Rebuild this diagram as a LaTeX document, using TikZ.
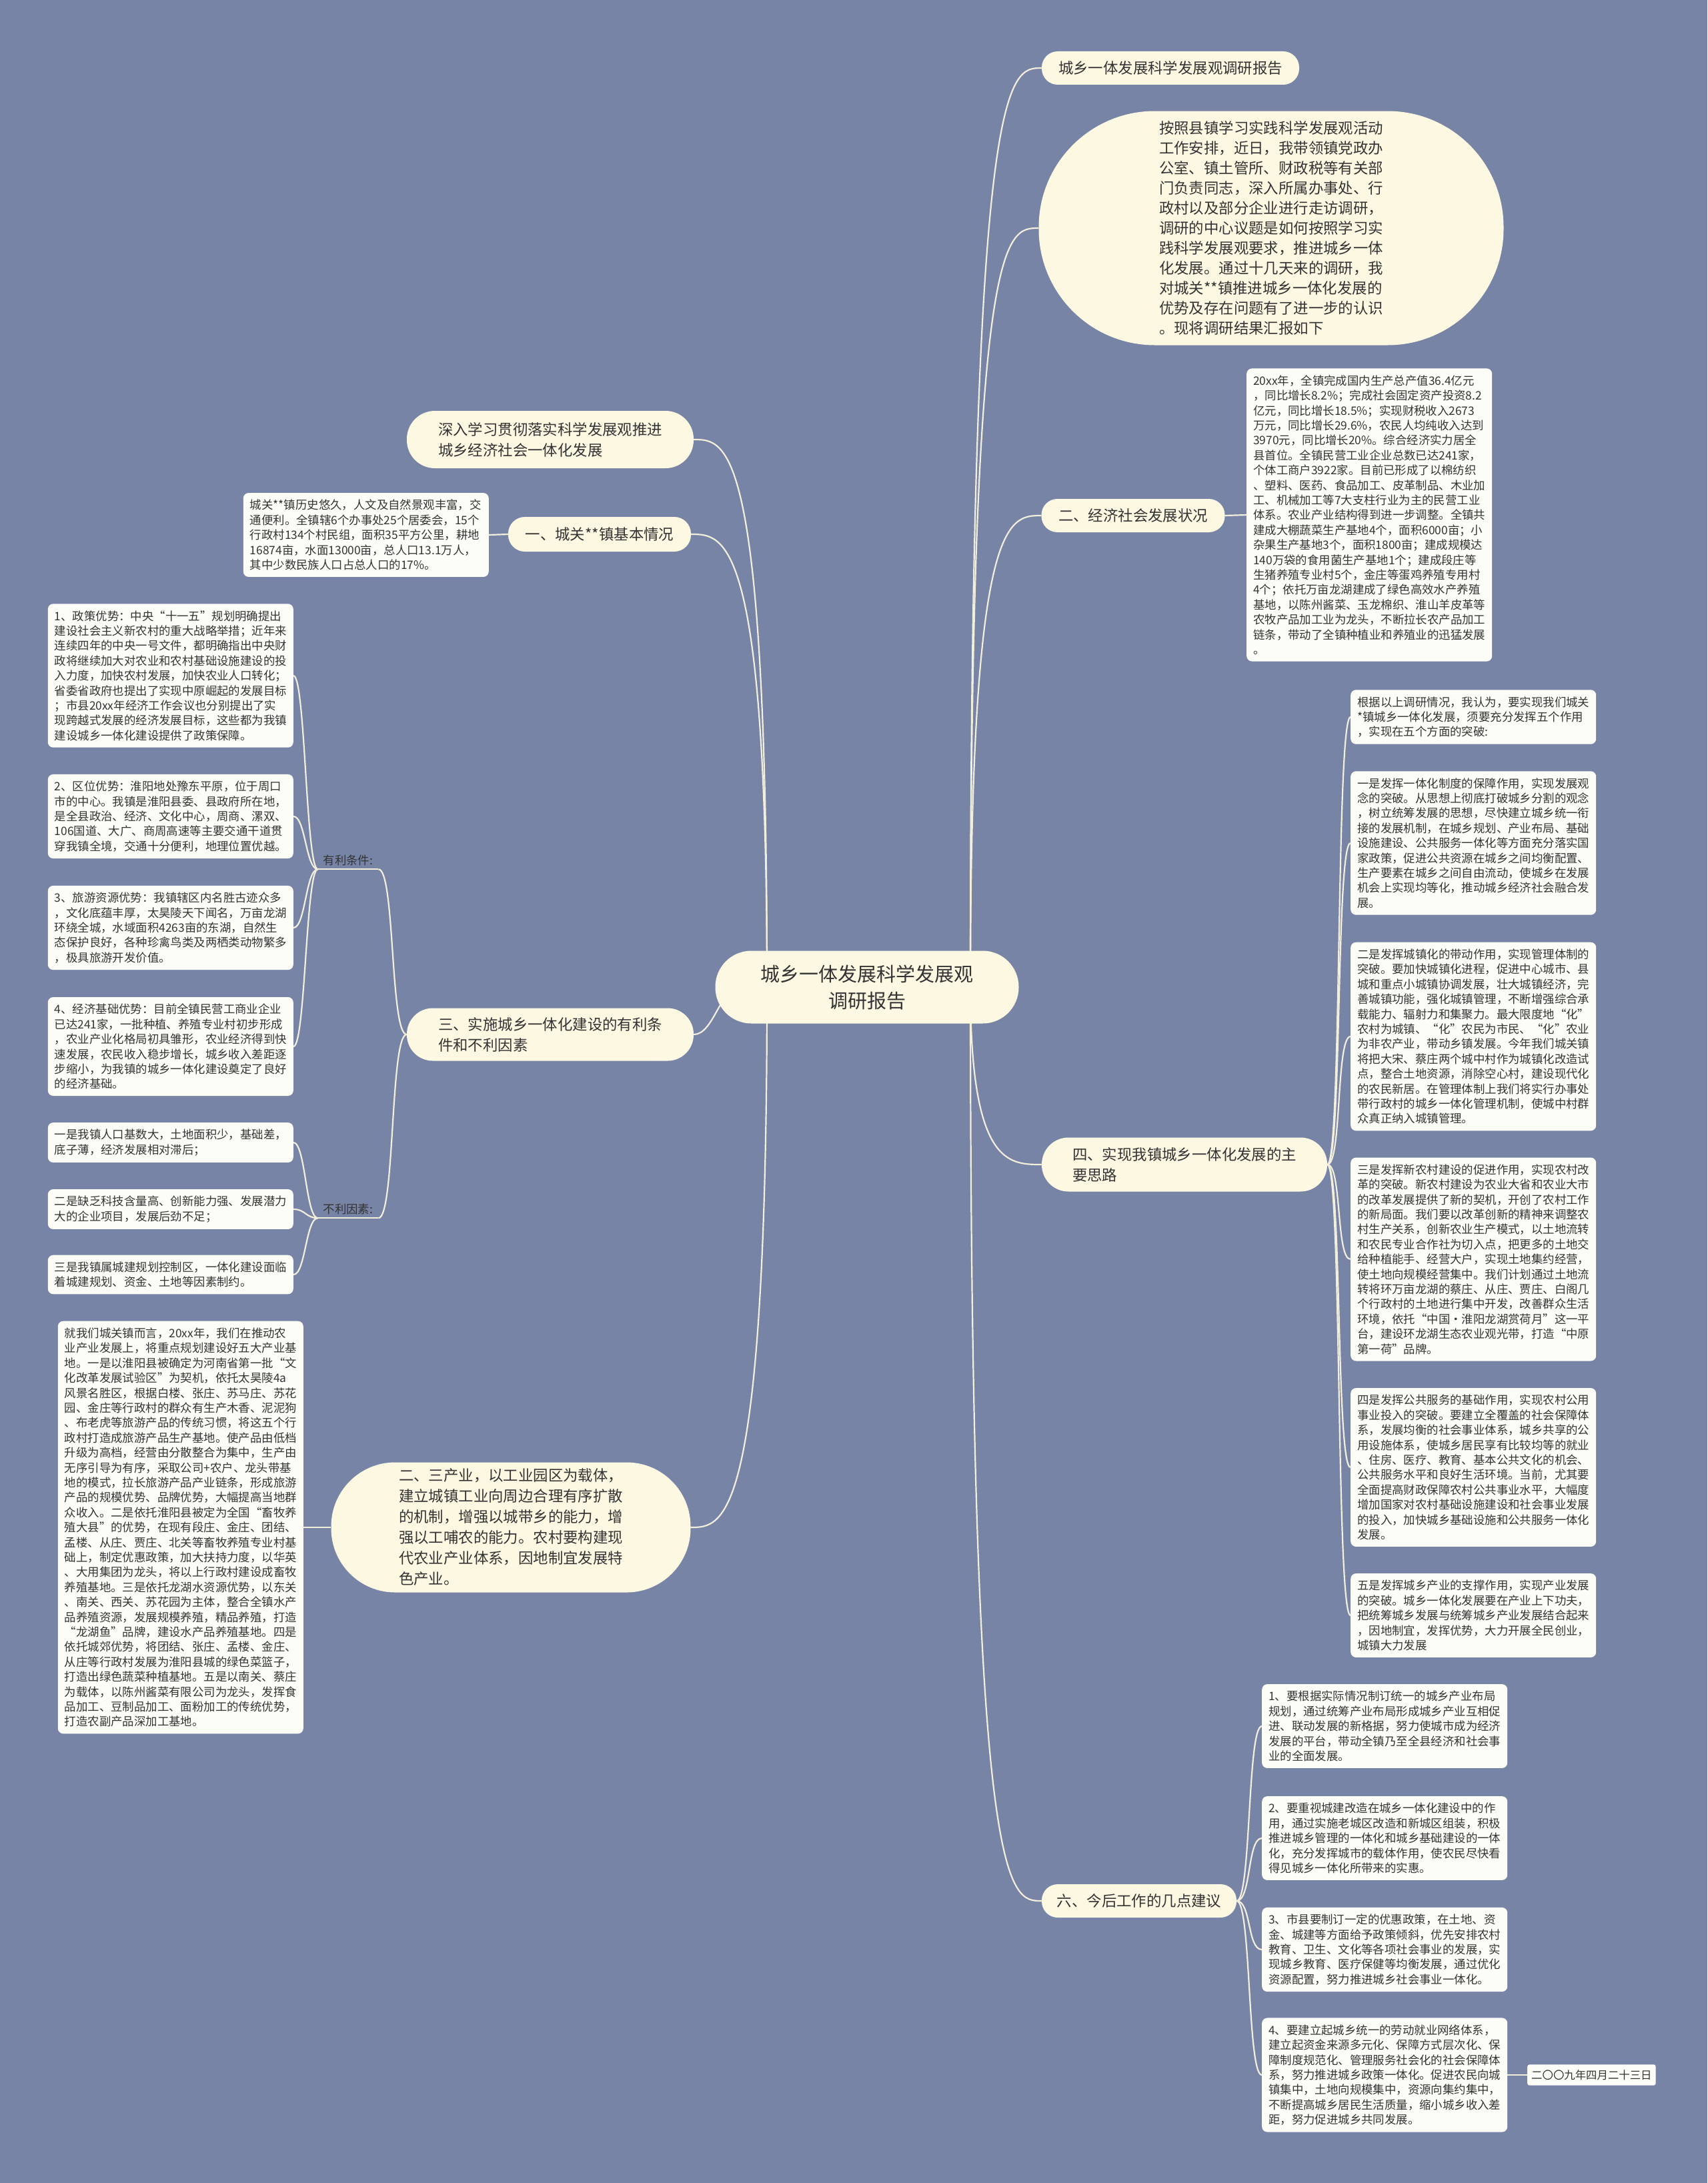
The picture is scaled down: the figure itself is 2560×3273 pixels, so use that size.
\documentclass[tikz,border=0pt]{standalone}
\usepackage{fontspec}
\setmainfont{Noto Sans CJK SC}
\usetikzlibrary{calc}
\definecolor{bgc}{HTML}{7784A6}
\definecolor{pillc}{HTML}{FDF8E2}
\definecolor{boxc}{HTML}{FDFDF8}
\definecolor{linec}{HTML}{F2EEDC}
\definecolor{txtc}{HTML}{333333}
\pgfdeclarelayer{bglayer}
\pgfdeclarelayer{linelayer}
\pgfsetlayers{bglayer,linelayer,main}
\tikzset{
  conn/.style={draw=linec, line width=2.2pt},
  pill/.style={fill=pillc, text=txtc, font=\fontsize{22.4}{31}\selectfont, inner sep=0pt, align=left},
  tbox/.style={fill=boxc, text=txtc, rounded corners=8pt, inner xsep=10pt, inner ysep=10pt, align=left, text width=348pt, font=\fontsize{17.4}{22.4}\selectfont},
  lab/.style={text=txtc, font=\fontsize{17.4}{22.4}\selectfont, inner xsep=8pt, inner ysep=5pt},
}
\begin{document}
\begin{tikzpicture}[x=1pt,y=-1pt]
\useasboundingbox (0,0) rectangle (2560,3273);
\begin{pgfonlayer}{bglayer}
\fill[bgc] (0,0) rectangle (2560,3273);
\end{pgfonlayer}

% centre
\node[pill, font=\fontsize{29}{40}\selectfont, align=center, minimum width=455pt, minimum height=109pt, rounded corners=54pt] (ctr) at (1300,1480) {城乡一体发展科学发展观\\调研报告};

% right branches
\node[pill, minimum width=386pt, minimum height=50pt, rounded corners=24pt] (p1) at (1755,102) {城乡一体发展科学发展观调研报告};
\node[pill, font=\fontsize{22.4}{30}\selectfont, minimum width=697pt, minimum height=351pt, rounded corners=174pt] (intro) at (1906,342) {按照县镇学习实践科学发展观活动\\
工作安排，近日，我带领镇党政办\\
公室、镇土管所、财政税等有关部\\
门负责同志，深入所属办事处、行\\
政村以及部分企业进行走访调研，\\
调研的中心议题是如何按照学习实\\
践科学发展观要求，推进城乡一体\\
化发展。通过十几天来的调研，我\\
对城关**镇推进城乡一体化发展的\\
优势及存在问题有了进一步的认识\\
。现将调研结果汇报如下};
\node[pill, minimum width=275pt, minimum height=50pt, rounded corners=24pt] (p2) at (1699,773) {二、经济社会发展状况};
\node[pill, minimum width=428pt, minimum height=81pt, rounded corners=40pt] (p4) at (1776,1746) {四、实现我镇城乡一体化发展的主\\要思路};
\node[pill, minimum width=292pt, minimum height=50pt, rounded corners=24pt] (p6) at (1708,2850) {六、今后工作的几点建议};

% left branches
\node[pill, minimum width=430pt, minimum height=86pt, rounded corners=42pt] (l1) at (825,659) {深入学习贯彻落实科学发展观推进\\城乡经济社会一体化发展};
\node[pill, minimum width=274pt, minimum height=52pt, rounded corners=25pt] (l2) at (899,801) {一、城关**镇基本情况};
\node[pill, minimum width=430pt, minimum height=79pt, rounded corners=39pt] (l3) at (825,1551) {三、实施城乡一体化建设的有利条\\件和不利因素};
\node[pill, minimum width=539pt, minimum height=195pt, rounded corners=96pt] (l4) at (766,2290) {二、三产业，以工业园区为载体，\\
建立城镇工业向周边合理有序扩散\\
的机制，增强以城带乡的能力，增\\
强以工哺农的能力。农村要构建现\\
代农业产业体系，因地制宜发展特\\
色产业。};

% economy box
\node[tbox, anchor=west] (econ) at (1869,772) {20xx年，全镇完成国内生产总产值36.4亿元\\
，同比增长8.2\%；完成社会固定资产投资8.2\\
亿元，同比增长18.5\%；实现财税收入2673\\
万元，同比增长29.6\%，农民人均纯收入达到\\
3970元，同比增长20\%。综合经济实力居全\\
县首位。全镇民营工业企业总数已达241家，\\
个体工商户3922家。目前已形成了以棉纺织\\
、塑料、医药、食品加工、皮革制品、木业加\\
工、机械加工等7大支柱行业为主的民营工业\\
体系。农业产业结构得到进一步调整。全镇共\\
建成大棚蔬菜生产基地4个，面积6000亩；小\\
杂果生产基地3个，面积1800亩；建成规模达\\
140万袋的食用菌生产基地1个；建成段庄等\\
生猪养殖专业村5个，金庄等蛋鸡养殖专用村\\
4个；依托万亩龙湖建成了绿色高效水产养殖\\
基地，以陈州酱菜、玉龙棉织、淮山羊皮革等\\
农牧产品加工业为龙头，不断拉长农产品加工\\
链条，带动了全镇种植业和养殖业的迅猛发展\\
。};

% section four boxes
\node[tbox, anchor=west] (r0) at (2025,1075) {根据以上调研情况，我认为，要实现我们城关\\
**镇城乡一体化发展，须要充分发挥五个作用\\
，实现在五个方面的突破:};
\node[tbox, anchor=west] (r1) at (2025,1264) {一是发挥一体化制度的保障作用，实现发展观\\
念的突破。从思想上彻底打破城乡分割的观念\\
，树立统筹发展的思想，尽快建立城乡统一衔\\
接的发展机制，在城乡规划、产业布局、基础\\
设施建设、公共服务一体化等方面充分落实国\\
家政策，促进公共资源在城乡之间均衡配置、\\
生产要素在城乡之间自由流动，使城乡在发展\\
机会上实现均等化，推动城乡经济社会融合发\\
展。};
\node[tbox, anchor=west] (r2) at (2025,1554) {二是发挥城镇化的带动作用，实现管理体制的\\
突破。要加快城镇化进程，促进中心城市、县\\
城和重点小城镇协调发展，壮大城镇经济，完\\
善城镇功能，强化城镇管理，不断增强综合承\\
载能力、辐射力和集聚力。最大限度地“化”\\
农村为城镇、“化”农民为市民、“化”农业\\
为非农产业，带动乡镇发展。今年我们城关镇\\
将把大宋、蔡庄两个城中村作为城镇化改造试\\
点，整合土地资源，消除空心村，建设现代化\\
的农民新居。在管理体制上我们将实行办事处\\
带行政村的城乡一体化管理机制，使城中村群\\
众真正纳入城镇管理。};
\node[tbox, anchor=west] (r3) at (2025,1888) {三是发挥新农村建设的促进作用，实现农村改\\
革的突破。新农村建设为农业大省和农业大市\\
的改革发展提供了新的契机，开创了农村工作\\
的新局面。我们要以改革创新的精神来调整农\\
村生产关系，创新农业生产模式，以土地流转\\
和农民专业合作社为切入点，把更多的土地交\\
给种植能手、经营大户，实现土地集约经营，\\
使土地向规模经营集中。我们计划通过土地流\\
转将环万亩龙湖的蔡庄、从庄、贾庄、白阁几\\
个行政村的土地进行集中开发，改善群众生活\\
环境，依托“中国·淮阳龙湖赏荷月”这一平\\
台，建设环龙湖生态农业观光带，打造“中原\\
第一荷”品牌。};
\node[tbox, anchor=west] (r4) at (2025,2200) {四是发挥公共服务的基础作用，实现农村公用\\
事业投入的突破。要建立全覆盖的社会保障体\\
系，发展均衡的社会事业体系，城乡共享的公\\
用设施体系，使城乡居民享有比较均等的就业\\
、住房、医疗、教育、基本公共文化的机会、\\
公共服务水平和良好生活环境。当前，尤其要\\
全面提高财政保障农村公共事业水平，大幅度\\
增加国家对农村基础设施建设和社会事业发展\\
的投入，加快城乡基础设施和公共服务一体化\\
发展。};
\node[tbox, anchor=west] (r5) at (2025,2422) {五是发挥城乡产业的支撑作用，实现产业发展\\
的突破。城乡一体化发展要在产业上下功夫，\\
把统筹城乡发展与统筹城乡产业发展结合起来\\
，因地制宜，发挥优势，大力开展全民创业，\\
城镇大力发展};

% section six boxes
\node[tbox, anchor=west] (s1) at (1892,2588) {1、要根据实际情况制订统一的城乡产业布局\\
规划，通过统筹产业布局形成城乡产业互相促\\
进、联动发展的新格据，努力使城市成为经济\\
发展的平台，带动全镇乃至全县经济和社会事\\
业的全面发展。};
\node[tbox, anchor=west] (s2) at (1892,2756) {2、要重视城建改造在城乡一体化建设中的作\\
用，通过实施老城区改造和新城区组装，积极\\
推进城乡管理的一体化和城乡基础建设的一体\\
化，充分发挥城市的载体作用，使农民尽快看\\
得见城乡一体化所带来的实惠。};
\node[tbox, anchor=west] (s3) at (1892,2923) {3、市县要制订一定的优惠政策，在土地、资\\
金、城建等方面给予政策倾斜，优先安排农村\\
教育、卫生、文化等各项社会事业的发展，实\\
现城乡教育、医疗保健等均衡发展，通过优化\\
资源配置，努力推进城乡社会事业一体化。};
\node[tbox, anchor=west] (s4) at (1892,3111) {4、要建立起城乡统一的劳动就业网络体系，\\
建立起资金来源多元化、保障方式层次化、保\\
障制度规范化、管理服务社会化的社会保障体\\
系，努力推进城乡政策一体化。促进农民向城\\
镇集中，土地向规模集中，资源向集约集中，\\
不断提高城乡居民生活质量，缩小城乡收入差\\
距，努力促进城乡共同发展。};
\node[tbox, text width=, anchor=west, rounded corners=3pt, inner xsep=6pt, inner ysep=8pt, font=\fontsize{16.4}{20}\selectfont] (date) at (2290,3111) {二〇〇九年四月二十三日};

% left boxes
\node[tbox, anchor=east] (base) at (733,802) {城关**镇历史悠久，人文及自然景观丰富，交\\
通便利。全镇辖6个办事处25个居委会，15个\\
行政村134个村民组，面积35平方公里，耕地\\
16874亩，水面13000亩，总人口13.1万人，\\
其中少数民族人口占总人口的17\%。};

\node[lab] (yl) at (522,1290) {有利条件:};
\node[lab] (nl) at (522,1813) {不利因素:};

\node[tbox, anchor=east] (y1) at (440,1013) {1、政策优势：中央“十一五”规划明确提出\\
建设社会主义新农村的重大战略举措；近年来\\
连续四年的中央一号文件，都明确指出中央财\\
政将继续加大对农业和农村基础设施建设的投\\
入力度，加快农村发展，加快农业人口转化；\\
省委省政府也提出了实现中原崛起的发展目标\\
；市县20xx年经济工作会议也分别提出了实\\
现跨越式发展的经济发展目标，这些都为我镇\\
建设城乡一体化建设提供了政策保障。};
\node[tbox, anchor=east] (y2) at (440,1224) {2、区位优势：淮阳地处豫东平原，位于周口\\
市的中心。我镇是淮阳县委、县政府所在地，\\
是全县政治、经济、文化中心，周商、漯双、\\
106国道、大广、商周高速等主要交通干道贯\\
穿我镇全境，交通十分便利，地理位置优越。};
\node[tbox, anchor=east] (y3) at (440,1391) {3、旅游资源优势：我镇辖区内名胜古迹众多\\
，文化底蕴丰厚，太昊陵天下闻名，万亩龙湖\\
环绕全城，水域面积4263亩的东湖，自然生\\
态保护良好，各种珍禽鸟类及两栖类动物繁多\\
，极具旅游开发价值。};
\node[tbox, anchor=east] (y4) at (440,1569) {4、经济基础优势：目前全镇民营工商业企业\\
已达241家，一批种植、养殖专业村初步形成\\
，农业产业化格局初具雏形，农业经济得到快\\
速发展，农民收入稳步增长，城乡收入差距逐\\
步缩小，为我镇的城乡一体化建设奠定了良好\\
的经济基础。};
\node[tbox, anchor=east] (n1) at (440,1713) {一是我镇人口基数大，土地面积少，基础差，\\
底子薄，经济发展相对滞后；};
\node[tbox, anchor=east] (n2) at (440,1813) {二是缺乏科技含量高、创新能力强、发展潜力\\
大的企业项目，发展后劲不足；};
\node[tbox, anchor=east] (n3) at (440,1911) {三是我镇属城建规划控制区，一体化建设面临\\
着城建规划、资金、土地等因素制约。};

\node[tbox, anchor=east] (ind) at (455,2290) {就我们城关镇而言，20xx年，我们在推动农\\
业产业发展上，将重点规划建设好五大产业基\\
地。一是以淮阳县被确定为河南省第一批“文\\
化改革发展试验区”为契机，依托太昊陵4a\\
风景名胜区，根据白楼、张庄、苏马庄、苏花\\
园、金庄等行政村的群众有生产木香、泥泥狗\\
、布老虎等旅游产品的传统习惯，将这五个行\\
政村打造成旅游产品生产基地。使产品由低档\\
升级为高档，经营由分散整合为集中，生产由\\
无序引导为有序，采取公司+农户、龙头带基\\
地的模式，拉长旅游产品产业链条，形成旅游\\
产品的规模优势、品牌优势，大幅提高当地群\\
众收入。二是依托淮阳县被定为全国“畜牧养\\
殖大县”的优势，在现有段庄、金庄、团结、\\
孟楼、从庄、贾庄、北关等畜牧养殖专业村基\\
础上，制定优惠政策，加大扶持力度，以华英\\
、大用集团为龙头，将以上行政村建设成畜牧\\
养殖基地。三是依托龙湖水资源优势，以东关\\
、南关、西关、苏花园为主体，整合全镇水产\\
品养殖资源，发展规模养殖，精品养殖，打造\\
“龙湖鱼”品牌，建设水产品养殖基地。四是\\
依托城郊优势，将团结、张庄、孟楼、金庄、\\
从庄等行政村发展为淮阳县城的绿色菜篮子，\\
打造出绿色蔬菜种植基地。五是以南关、蔡庄\\
为载体，以陈州酱菜有限公司为龙头，发挥食\\
品加工、豆制品加工、面粉加工的传统优势，\\
打造农副产品深加工基地。};

\coordinate (cR) at (1455,1480);
\coordinate (cL) at (1150,1480);
\coordinate (cL3) at (1110,1480);

\begin{pgfonlayer}{linelayer}
% centre to right
\foreach \t in {p1,intro,p2,p4,p6}
  \draw[conn] (cR) .. controls (cR |- \t.west) and ($(\t.west)+(-50,0)$) .. (\t.west);
% centre to left
\foreach \t in {l1,l2,l4}
  \draw[conn] (cL) .. controls (cL |- \t.east) and ($(\t.east)+(50,0)$) .. (\t.east);
\draw[conn] (cL3) .. controls (1080,1480) and ($(l3.east)+(30,0)$) .. (l3.east);
% straight links
\draw[conn] (p2.east) -- (econ.west);
\draw[conn] (l2.west) -- (base.east);
\draw[conn] (l4.west) -- (ind.east);
\draw[conn] (s4.east) -- (date.west);
% fans
\foreach \b in {r0,r1,r2,r3,r4,r5}
  \draw[conn] (p4.east) .. controls ($(p4.east)+(22,0)$) and ($(\b.west)+(-22,0)$) .. (\b.west);
\foreach \b in {s1,s2,s3,s4}
  \draw[conn] (p6.east) .. controls ($(p6.east)+(22,0)$) and ($(\b.west)+(-22,0)$) .. (\b.west);
\draw[conn] (yl.south west) -- (yl.south east);
\draw[conn] (nl.south west) -- (nl.south east);
\draw[conn] (l3.west) .. controls ($(l3.west)+(-25,0)$) and ($(yl.south east)+(25,0)$) .. (yl.south east);
\draw[conn] (l3.west) .. controls ($(l3.west)+(-25,0)$) and ($(nl.south east)+(25,0)$) .. (nl.south east);
\foreach \b in {y1,y2,y3,y4}
  \draw[conn] (yl.south west) .. controls ($(yl.south west)+(-18,0)$) and ($(\b.east)+(18,0)$) .. (\b.east);
\foreach \b in {n1,n2,n3}
  \draw[conn] (nl.south west) .. controls ($(nl.south west)+(-18,0)$) and ($(\b.east)+(18,0)$) .. (\b.east);
\end{pgfonlayer}
\end{tikzpicture}
\end{document}
